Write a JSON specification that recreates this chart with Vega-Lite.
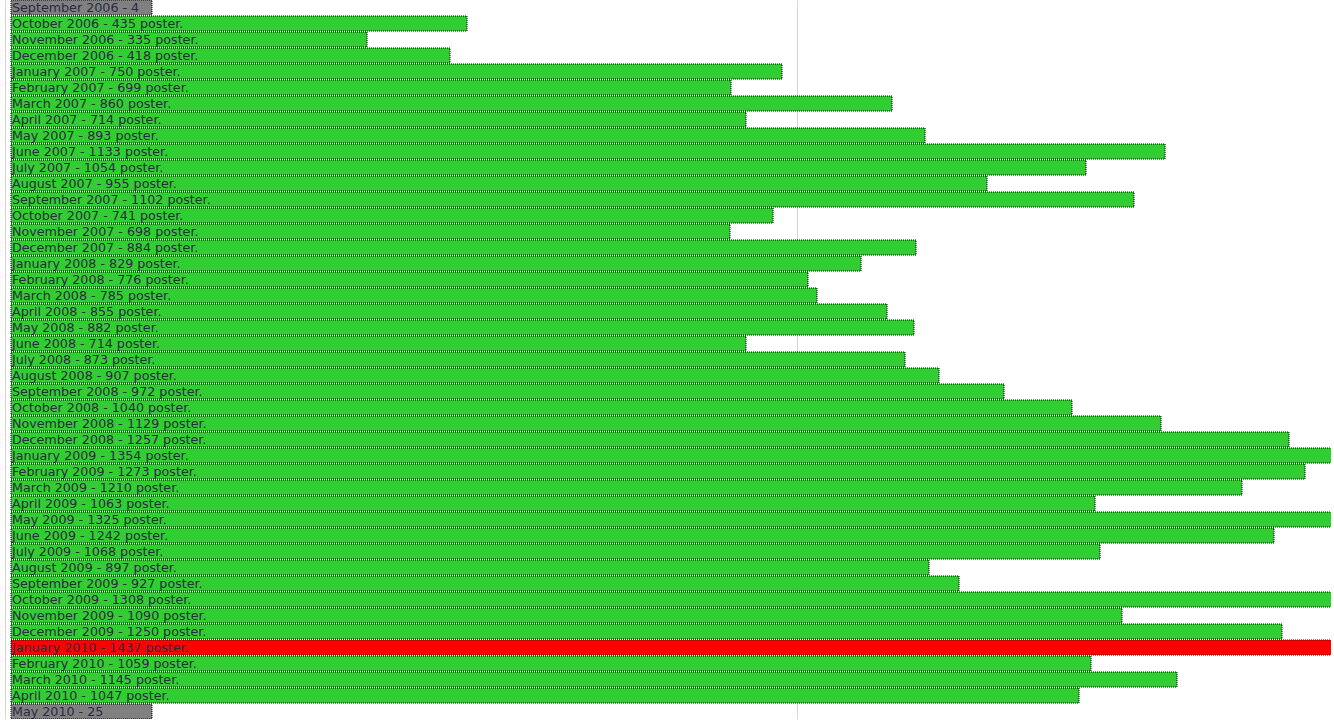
{
  "$schema": "https://vega.github.io/schema/vega-lite/v6.json",
  "width": 1331,
  "height": 719,
  "padding": 0,
  "autosize": {"type": "none"},
  "background": "#ffffff",
  "config": {"view": {"stroke": null}},
  "data": {"values": [
    {"month": "September 2006", "posts": 4, "status": "partial", "label": "September 2006 - 4"},
    {"month": "October 2006", "posts": 435, "status": "normal", "label": "October 2006 - 435 poster."},
    {"month": "November 2006", "posts": 335, "status": "normal", "label": "November 2006 - 335 poster."},
    {"month": "December 2006", "posts": 418, "status": "normal", "label": "December 2006 - 418 poster."},
    {"month": "January 2007", "posts": 750, "status": "normal", "label": "January 2007 - 750 poster."},
    {"month": "February 2007", "posts": 699, "status": "normal", "label": "February 2007 - 699 poster."},
    {"month": "March 2007", "posts": 860, "status": "normal", "label": "March 2007 - 860 poster."},
    {"month": "April 2007", "posts": 714, "status": "normal", "label": "April 2007 - 714 poster."},
    {"month": "May 2007", "posts": 893, "status": "normal", "label": "May 2007 - 893 poster."},
    {"month": "June 2007", "posts": 1133, "status": "normal", "label": "June 2007 - 1133 poster."},
    {"month": "July 2007", "posts": 1054, "status": "normal", "label": "July 2007 - 1054 poster."},
    {"month": "August 2007", "posts": 955, "status": "normal", "label": "August 2007 - 955 poster."},
    {"month": "September 2007", "posts": 1102, "status": "normal", "label": "September 2007 - 1102 poster."},
    {"month": "October 2007", "posts": 741, "status": "normal", "label": "October 2007 - 741 poster."},
    {"month": "November 2007", "posts": 698, "status": "normal", "label": "November 2007 - 698 poster."},
    {"month": "December 2007", "posts": 884, "status": "normal", "label": "December 2007 - 884 poster."},
    {"month": "January 2008", "posts": 829, "status": "normal", "label": "January 2008 - 829 poster."},
    {"month": "February 2008", "posts": 776, "status": "normal", "label": "February 2008 - 776 poster."},
    {"month": "March 2008", "posts": 785, "status": "normal", "label": "March 2008 - 785 poster."},
    {"month": "April 2008", "posts": 855, "status": "normal", "label": "April 2008 - 855 poster."},
    {"month": "May 2008", "posts": 882, "status": "normal", "label": "May 2008 - 882 poster."},
    {"month": "June 2008", "posts": 714, "status": "normal", "label": "June 2008 - 714 poster."},
    {"month": "July 2008", "posts": 873, "status": "normal", "label": "July 2008 - 873 poster."},
    {"month": "August 2008", "posts": 907, "status": "normal", "label": "August 2008 - 907 poster."},
    {"month": "September 2008", "posts": 972, "status": "normal", "label": "September 2008 - 972 poster."},
    {"month": "October 2008", "posts": 1040, "status": "normal", "label": "October 2008 - 1040 poster."},
    {"month": "November 2008", "posts": 1129, "status": "normal", "label": "November 2008 - 1129 poster."},
    {"month": "December 2008", "posts": 1257, "status": "normal", "label": "December 2008 - 1257 poster."},
    {"month": "January 2009", "posts": 1354, "status": "normal", "label": "January 2009 - 1354 poster."},
    {"month": "February 2009", "posts": 1273, "status": "normal", "label": "February 2009 - 1273 poster."},
    {"month": "March 2009", "posts": 1210, "status": "normal", "label": "March 2009 - 1210 poster."},
    {"month": "April 2009", "posts": 1063, "status": "normal", "label": "April 2009 - 1063 poster."},
    {"month": "May 2009", "posts": 1325, "status": "normal", "label": "May 2009 - 1325 poster."},
    {"month": "June 2009", "posts": 1242, "status": "normal", "label": "June 2009 - 1242 poster."},
    {"month": "July 2009", "posts": 1068, "status": "normal", "label": "July 2009 - 1068 poster."},
    {"month": "August 2009", "posts": 897, "status": "normal", "label": "August 2009 - 897 poster."},
    {"month": "September 2009", "posts": 927, "status": "normal", "label": "September 2009 - 927 poster."},
    {"month": "October 2009", "posts": 1308, "status": "normal", "label": "October 2009 - 1308 poster."},
    {"month": "November 2009", "posts": 1090, "status": "normal", "label": "November 2009 - 1090 poster."},
    {"month": "December 2009", "posts": 1250, "status": "normal", "label": "December 2009 - 1250 poster."},
    {"month": "January 2010", "posts": 1437, "status": "record", "label": "January 2010 - 1437 poster."},
    {"month": "February 2010", "posts": 1059, "status": "normal", "label": "February 2010 - 1059 poster."},
    {"month": "March 2010", "posts": 1145, "status": "normal", "label": "March 2010 - 1145 poster."},
    {"month": "April 2010", "posts": 1047, "status": "normal", "label": "April 2010 - 1047 poster."},
    {"month": "May 2010", "posts": 25, "status": "partial", "label": "May 2010 - 25"}
  ]},
  "encoding": {
    "y": {"field": "month", "type": "nominal", "axis": null,
          "scale": {"paddingInner": 0.0625, "paddingOuter": 0,
                    "domain": ["September 2006", "October 2006", "November 2006", "December 2006",
                               "January 2007", "February 2007", "March 2007", "April 2007", "May 2007", "June 2007", "July 2007", "August 2007", "September 2007", "October 2007", "November 2007", "December 2007",
                               "January 2008", "February 2008", "March 2008", "April 2008", "May 2008", "June 2008", "July 2008", "August 2008", "September 2008", "October 2008", "November 2008", "December 2008",
                               "January 2009", "February 2009", "March 2009", "April 2009", "May 2009", "June 2009", "July 2009", "August 2009", "September 2009", "October 2009", "November 2009", "December 2009",
                               "January 2010", "February 2010", "March 2010", "April 2010", "May 2010"]}}
  },
  "layer": [
    {
      "transform": [{"filter": "datum.status !== 'partial'"}],
      "mark": {"type": "bar", "clip": true, "stroke": "#000000", "strokeWidth": 1, "strokeDash": [1, 1]},
      "encoding": {
        "x": {"field": "posts", "type": "quantitative",
              "scale": {"domain": [-32, 1299], "nice": false, "zero": false},
              "axis": {"values": [-27, 765], "grid": true, "gridColor": "#d4d4d4", "zindex": 0,
                       "labels": false, "ticks": false, "title": null, "domain": true, "domainColor": "#3a3a3a", "domainWidth": 2, "offset": 2}},
        "x2": {"datum": -21},
        "color": {"field": "status", "type": "nominal", "legend": null,
                  "scale": {"domain": ["normal", "record", "partial"], "range": ["#32CD32", "#FF0000", "#808080"]}}
      }
    },
    {
      "transform": [{"filter": "datum.status === 'partial'"}],
      "mark": {"type": "bar", "clip": true, "stroke": "#000000", "strokeWidth": 1, "strokeDash": [1, 1]},
      "encoding": {
        "x": {"datum": 120, "type": "quantitative"},
        "x2": {"datum": -21},
        "color": {"field": "status", "type": "nominal", "legend": null}
      }
    },
    {
      "mark": {"type": "text", "align": "left", "baseline": "middle", "font": "DejaVu Sans", "fontSize": 12.7, "color": "#2a2a40", "dy": 0.5},
      "encoding": {
        "x": {"datum": -20, "type": "quantitative"},
        "text": {"field": "label", "type": "nominal"}
      }
    }
  ]
}
